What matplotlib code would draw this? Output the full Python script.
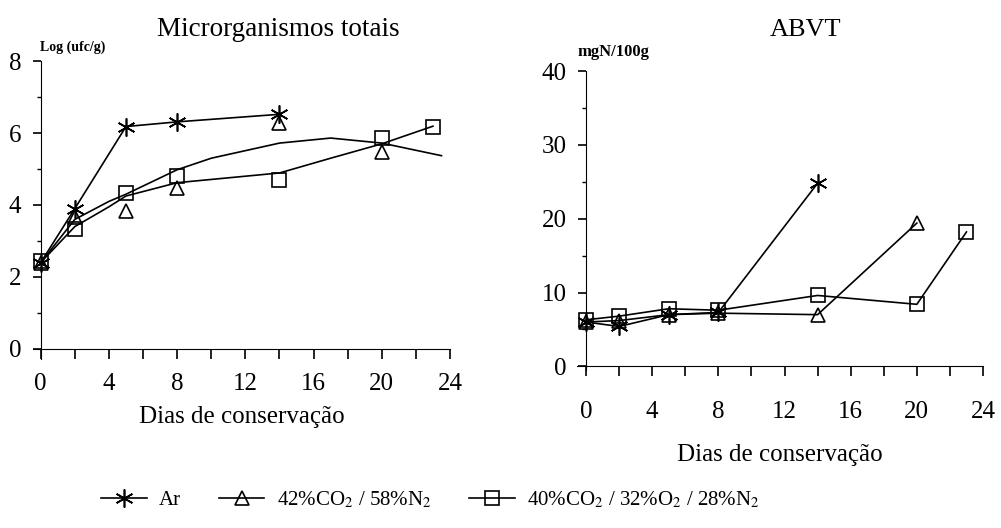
import matplotlib
matplotlib.use("Agg")
import matplotlib.pyplot as plt
from matplotlib.ticker import MultipleLocator

plt.rcParams['font.family'] = ['Liberation Serif', 'DejaVu Serif']
plt.rcParams['mathtext.fontset'] = 'stix'

# --- Microrganismos totais (log ufc/g) ---
ar_days = [0, 2, 5, 8, 14]
ar_mo = [2.4, 3.9, 6.18, 6.31, 6.52]
tri_days = [0, 2, 5, 8, 14, 20]
tri_mo = [2.4, 3.67, 3.84, 4.46, 6.27, 5.48]
sq_days = [0, 2, 5, 8, 14, 20, 23]
sq_mo = [2.45, 3.33, 4.32, 4.81, 4.69, 5.85, 6.17]

# trend curves drawn in the original
tri_curve_x = [0, 2, 4, 5, 8, 10, 14, 17, 20, 23.5]
tri_curve_y = [2.4, 3.6, 4.1, 4.3, 4.98, 5.3, 5.72, 5.86, 5.72, 5.37]
sq_curve_x = [0, 2, 4, 5, 8, 14, 17, 20, 23]
sq_curve_y = [2.4, 3.4, 3.95, 4.25, 4.62, 4.89, 5.3, 5.7, 6.19]

# --- ABVT (mgN/100g) ---
ar_abvt = [6.0, 5.4, 7.0, 7.3, 24.8]
tri_abvt = [6.0, 6.2, 7.0, 7.2, 7.0, 19.4]
sq_abvt = [6.3, 6.8, 7.8, 7.6, 9.6, 8.4, 18.2]

labels = ['Ar', '42%CO$_2$ / 58%N$_2$', '40%CO$_2$ / 32%O$_2$ / 28%N$_2$']

ast = (6, 2, 0)
mk = dict(color='black', lw=1.2, ms=10, mew=1.2, mfc='none')

fig = plt.figure(figsize=(10.01, 5.28), dpi=100)
ax1 = fig.add_axes([0.033, 0.320, 0.4166, 0.5644])
ax2 = fig.add_axes([0.5764, 0.2992, 0.4056, 0.5663])

# left panel
ax1.plot(ar_days, ar_mo, marker=ast, **{**mk, 'ms': 13})
ax1.plot(tri_curve_x, tri_curve_y, color='black', lw=1.2)
ax1.plot(sq_curve_x, sq_curve_y, color='black', lw=1.2)
ax1.plot(tri_days, tri_mo, ls='none', marker='^', **mk)
ax1.plot(sq_days, sq_mo, ls='none', marker='s', **mk)
ax1.set_xlim(-0.45, 24)
ax1.set_ylim(-0.28, 8)
ax1.yaxis.set_major_locator(MultipleLocator(2))
ax1.yaxis.set_minor_locator(MultipleLocator(1))

# right panel
h1, = ax2.plot(ar_days, ar_abvt, marker=ast, **{**mk, 'ms': 13})
h2, = ax2.plot(tri_days, tri_abvt, marker='^', **mk)
h3, = ax2.plot(sq_days, sq_abvt, marker='s', **mk)
ax2.set_xlim(-0.55, 24)
ax2.set_ylim(-0.5, 40)
ax2.yaxis.set_major_locator(MultipleLocator(10))
ax2.yaxis.set_minor_locator(MultipleLocator(5))

for ax, xpad in [(ax1, 10), (ax2, 18)]:
    for s in ['top', 'right']:
        ax.spines[s].set_visible(False)
    ax.spines['left'].set_position(('data', 0))
    ax.spines['bottom'].set_position(('data', 0))
    ax.xaxis.set_major_locator(MultipleLocator(4))
    ax.xaxis.set_minor_locator(MultipleLocator(2))
    ax.tick_params(axis='x', which='both', direction='out', length=7, width=1.2)
    ax.tick_params(axis='x', which='major', labelsize=18, pad=xpad)
    ax.tick_params(axis='y', which='major', direction='out', length=6, width=1.2,
                   labelsize=18, pad=8)
    ax.tick_params(axis='y', which='minor', direction='out', length=3, width=1)
    ax.patch.set_visible(False)

ax1.set_xlabel('Dias de conservação', fontsize=18, labelpad=8)
ax2.set_xlabel('Dias de conservação', fontsize=18, labelpad=15)

fig.text(0.278, 1 - 30 / 528, 'Microrganismos totais', fontsize=19.5, ha='center', va='center')
fig.text(0.805, 1 - 30 / 528, 'ABVT', fontsize=19, ha='center', va='center')
fig.text(0.040, 1 - 47 / 528, 'Log (ufc/g)', fontsize=10, fontweight='bold', ha='left', va='center')
fig.text(0.577, 1 - 52 / 528, 'mgN/100g', fontsize=12, fontweight='bold', ha='left', va='center')

fig.legend([h1, h2, h3], labels, loc='center', bbox_to_anchor=(0.43, 0.054), ncol=3,
           frameon=False, fontsize=15, handlelength=2.2, columnspacing=1.8,
           handletextpad=0.6)

fig.savefig('out.png', dpi=100)
